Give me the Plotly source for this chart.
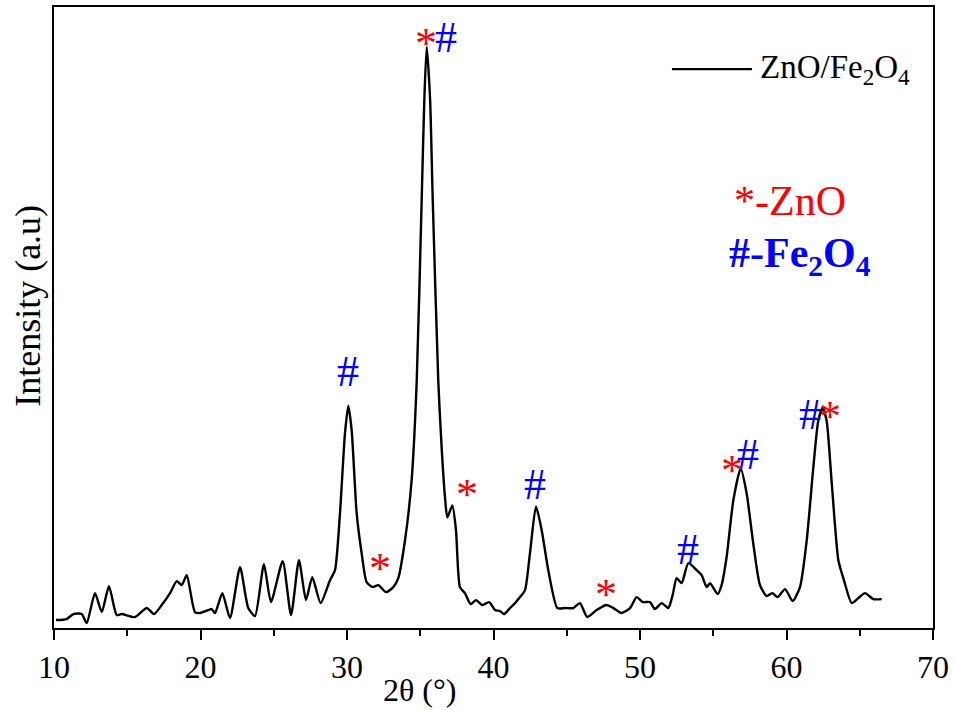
import plotly.graph_objects as go

# XRD pattern (2theta in degrees, intensity in arbitrary units)
two_theta = [10.14, 10.87, 11.32, 11.89, 12.23, 12.80, 13.26, 13.75, 14.28, 14.62, 15.53, 16.33, 16.83,
             17.35, 17.92, 18.38, 18.72, 19.06, 19.62, 19.97, 20.53, 20.76, 20.99, 21.49, 22.01, 22.70,
             23.26, 23.72, 24.33, 24.81, 25.61, 26.18, 26.72, 27.20, 27.63, 28.20, 28.84, 29.18, 29.52,
             29.86, 30.09, 30.32, 30.66, 31.00, 31.34, 31.75, 32.14, 32.66, 33.16, 33.50, 33.96, 34.41,
             34.76, 35.10, 35.28, 35.44, 35.67, 35.85, 36.23, 36.46, 36.69, 36.85, 37.19, 37.44, 37.71,
             38.05, 38.44, 38.81, 39.24, 39.71, 40.10, 40.44, 40.72, 41.13, 41.47, 41.81, 42.15, 42.49,
             42.90, 43.29, 43.74, 44.36, 44.88, 45.45, 45.90, 46.40, 47.04, 47.72, 48.18, 48.75, 49.32,
             49.77, 50.18, 50.68, 51.02, 51.48, 51.93, 52.23, 52.50, 52.84, 53.30, 53.87, 54.21, 54.55,
             54.78, 55.30, 55.57, 55.91, 56.37, 56.87, 57.28, 57.73, 58.19, 58.65, 59.03, 59.39, 59.90,
             60.42, 60.92, 61.38, 61.83, 62.17, 62.47, 62.74, 63.09, 63.54, 63.92, 64.45, 64.90, 65.36,
             65.92, 66.50]
intensity = [8, 9, 14, 14, 5, 35, 16, 42, 13, 14, 11, 20, 14,
             23, 35, 47, 43, 53, 16, 15, 18, 19, 15, 35, 10, 61,
             20, 12, 64, 26, 67, 13, 68, 28, 51, 25, 48, 58, 115,
             195, 223, 198, 115, 75, 46, 41, 43, 36, 41, 50, 88, 148,
             248, 431, 531, 583, 531, 431, 248, 181, 131, 111, 123, 98, 41,
             35, 24, 28, 23, 26, 18, 17, 14, 20, 25, 31, 38, 75,
             122, 98, 58, 20, 20, 20, 25, 11, 18, 23, 20, 15, 20,
             31, 26, 26, 19, 25, 20, 33, 50, 45, 65, 58, 53, 41,
             45, 34, 43, 71, 128, 160, 135, 85, 43, 32, 35, 31, 39,
             27, 41, 88, 161, 208, 221, 208, 145, 68, 48, 25, 30, 35,
             29, 29]

# Phase markers above peaks
mark_x = [30.07, 32.25, 35.39, 36.76, 38.19, 42.83, 47.68, 53.28, 56.28, 57.37, 61.60, 62.97]
mark_y = [259, 66, 592, 594, 140, 146, 40, 81, 164, 176, 216, 218]
mark_text = ["#", "*", "*", "#", "*", "#", "*", "#", "*", "#", "#", "*"]

x_ticks = [10, 20, 30, 40, 50, 60, 70]

FONT = "Liberation Serif"
RED = "#FF0000"
BLUE = "#0000FF"

fig = go.Figure()
fig.add_trace(go.Scatter(x=two_theta, y=intensity, mode="lines", name="ZnO/Fe2O4",
                         line=dict(color="black", width=2.4, shape="spline", smoothing=0.6),
                         showlegend=False))

annotations = []
for mx, my, mt in zip(mark_x, mark_y, mark_text):
    if mt == "*":
        annotations.append(dict(x=mx, y=my, xref="x", yref="y", text="*", showarrow=False,
                                font=dict(family=FONT, size=44, color=RED),
                                xanchor="center", yanchor="middle", yshift=-6))
    else:
        annotations.append(dict(x=mx, y=my, xref="x", yref="y", text="#", showarrow=False,
                                font=dict(family=FONT, size=44, color=BLUE),
                                xanchor="center", yanchor="middle", yshift=-2))

# legend-like entry
annotations.append(dict(x=0.801, y=0.900, xref="paper", yref="paper", showarrow=False,
                        text="ZnO/Fe<sub>2</sub>O<sub>4</sub>", xanchor="left", yanchor="middle",
                        font=dict(family=FONT, size=33, color="black")))
annotations.append(dict(x=0.837, y=0.687, xref="paper", yref="paper", showarrow=False,
                        text="*-ZnO", xanchor="center", yanchor="middle",
                        font=dict(family=FONT, size=42, color=RED)))
annotations.append(dict(x=0.849, y=0.599, xref="paper", yref="paper", showarrow=False,
                        text="<b>#-Fe<sub>2</sub>O<sub>4</sub></b>", xanchor="center", yanchor="middle",
                        font=dict(family=FONT, size=42, color=BLUE)))
# axis titles
annotations.append(dict(x=0.416, y=-0.0995, xref="paper", yref="paper", showarrow=False,
                        text="2θ (°)", xanchor="center", yanchor="middle",
                        font=dict(family=FONT, size=32, color="black")))
annotations.append(dict(x=-0.029, y=0.518, xref="paper", yref="paper", showarrow=False,
                        text="Intensity (a.u)", textangle=-90, xanchor="center", yanchor="middle",
                        font=dict(family=FONT, size=36, color="black")))

fig.update_layout(
    width=955, height=710,
    margin=dict(l=54, r=22, t=5, b=82),
    paper_bgcolor="white", plot_bgcolor="white",
    annotations=annotations,
    shapes=[dict(type="line", xref="paper", yref="paper", x0=0.703, x1=0.794, y0=0.900, y1=0.900,
                 line=dict(color="black", width=2.2))],
    showlegend=False,
)
fig.update_xaxes(range=[10, 70], tickvals=x_ticks, ticktext=[str(v) for v in x_ticks],
                 ticks="outside", ticklen=10, tickwidth=2, tickcolor="black",
                 minor=dict(dtick=5, tick0=0, ticks="outside", ticklen=6, tickwidth=2, tickcolor="black"),
                 showline=True, linewidth=2, linecolor="black", mirror=True,
                 showgrid=False, zeroline=False,
                 tickfont=dict(family=FONT, size=32, color="black"))
fig.update_yaxes(range=[0, 623], showticklabels=False, ticks="",
                 showline=True, linewidth=2, linecolor="black", mirror=True,
                 showgrid=False, zeroline=False)

fig.write_html("out.html")
